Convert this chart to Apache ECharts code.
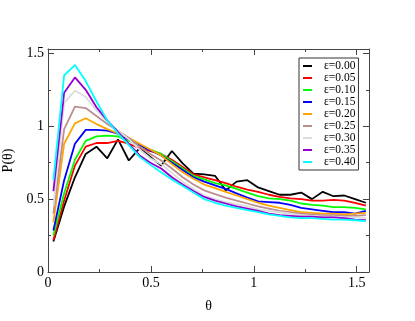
<!DOCTYPE html>
<html>
<head>
<meta charset="utf-8">
<script src="https://cdn.jsdelivr.net/npm/echarts@6/dist/echarts.min.js"></script>
<style>html,body{margin:0;padding:0;background:#fff}#c{width:415px;height:321px}</style>
</head>
<body>
<div id="c"></div>
<script>
var theta = [0.0262,0.0785,0.1309,0.1833,0.2356,0.2880,0.3403,0.3927,0.4451,0.4974,
  0.5498,0.6021,0.6545,0.7069,0.7592,0.8116,0.8639,0.9163,0.9687,1.0210,
  1.0734,1.1257,1.1781,1.2305,1.2828,1.3352,1.3875,1.4399,1.4923,1.5446];
var seriesNames = ['ε=0.00','ε=0.05','ε=0.10','ε=0.15','ε=0.20','ε=0.25','ε=0.30','ε=0.35','ε=0.40'];
var eps000 = [0.21,0.45,0.65,0.81,0.86,0.78,0.91,0.765,0.85,0.79,0.73,0.83,0.745,0.675,0.67,0.66,0.56,0.62,0.63,0.58,0.555,0.53,0.53,0.545,0.50,0.55,0.52,0.525,0.50,0.475];
var eps005 = [0.22,0.49,0.73,0.86,0.885,0.885,0.90,0.88,0.85,0.83,0.81,0.77,0.72,0.67,0.65,0.63,0.61,0.585,0.565,0.55,0.53,0.515,0.505,0.50,0.49,0.49,0.495,0.49,0.475,0.455];
var eps010 = [0.25,0.54,0.77,0.90,0.93,0.935,0.93,0.90,0.87,0.84,0.81,0.76,0.71,0.66,0.635,0.61,0.595,0.57,0.545,0.52,0.505,0.50,0.49,0.47,0.46,0.455,0.445,0.445,0.44,0.43];
var eps015 = [0.285,0.63,0.88,0.975,0.975,0.97,0.95,0.91,0.87,0.835,0.80,0.75,0.70,0.65,0.62,0.595,0.57,0.54,0.51,0.485,0.48,0.475,0.46,0.44,0.43,0.42,0.41,0.41,0.40,0.42];
var eps020 = [0.34,0.88,1.02,1.055,1.015,0.98,0.95,0.92,0.88,0.84,0.80,0.74,0.685,0.64,0.60,0.575,0.55,0.525,0.50,0.475,0.455,0.44,0.425,0.41,0.405,0.40,0.40,0.395,0.40,0.405];
var eps025 = [0.40,0.98,1.135,1.125,1.07,1.015,0.97,0.92,0.86,0.81,0.765,0.71,0.65,0.60,0.56,0.535,0.51,0.49,0.47,0.45,0.435,0.42,0.41,0.40,0.395,0.39,0.39,0.385,0.385,0.39];
var eps030 = [0.45,1.16,1.245,1.20,1.11,1.03,0.97,0.91,0.84,0.78,0.74,0.68,0.62,0.57,0.525,0.50,0.48,0.465,0.45,0.43,0.42,0.41,0.40,0.39,0.385,0.38,0.38,0.375,0.375,0.37];
var eps035 = [0.555,1.23,1.335,1.25,1.13,1.04,0.96,0.88,0.80,0.75,0.71,0.65,0.60,0.555,0.515,0.49,0.47,0.45,0.435,0.42,0.40,0.39,0.385,0.38,0.38,0.375,0.375,0.37,0.36,0.355];
var eps040 = [0.63,1.35,1.42,1.31,1.17,1.04,0.95,0.87,0.79,0.735,0.685,0.635,0.59,0.545,0.50,0.475,0.455,0.44,0.425,0.41,0.395,0.385,0.375,0.37,0.37,0.365,0.36,0.36,0.355,0.35];
var xMajor = [0, 0.5, 1, 1.5];
var xMinor = [0.25, 0.75, 1.25];
var yMajor = [0, 0.5, 1, 1.5];
var yMinor = [0.25, 0.75, 1.25];
var xLabels = ['0', '0.5', '1', '1.5'];
var yLabels = ['0', '0.5', '1', '1.5'];

var allValues = [eps000, eps005, eps010, eps015, eps020, eps025, eps030, eps035, eps040];
var colors = ['#000000','#ff0000','#00ff00','#0000ff','#ffa500','#bc8f8f','#dcdcdc','#9400d3','#00ffff'];
var FONT = "'Liberation Serif','Times New Roman',serif";
var XMIN = 0, XMAX = 1.56, YMIN = 0, YMAX = 1.53;
var frame = '#444';

function fmt(list, labels) { return function (v) { for (var i = 0; i < list.length; i++) if (Math.abs(list[i] - v) < 1e-6) return labels[i]; return ''; }; }

function xAx(grid, pos, vals, len, showLab, showLine) {
  return { type: 'value', gridIndex: grid, position: pos, min: XMIN, max: XMAX,
    axisLine: { show: showLine, onZero: false, lineStyle: { color: frame, width: 1 } },
    axisTick: { show: true, inside: true, length: len, customValues: vals, lineStyle: { color: frame } },
    axisLabel: { show: showLab, customValues: vals, formatter: fmt(xMajor, xLabels), color: '#000', fontFamily: FONT, fontSize: 14, margin: 4 },
    splitLine: { show: false },
    name: showLab ? 'θ' : '', nameLocation: 'middle', nameGap: 27,
    nameTextStyle: { fontFamily: FONT, fontSize: 14, color: '#000' } };
}
function yAx(grid, pos, vals, len, showLab, showLine) {
  return { type: 'value', gridIndex: grid, position: pos, min: YMIN, max: YMAX,
    axisLine: { show: showLine, onZero: false, lineStyle: { color: frame, width: 1 } },
    axisTick: { show: true, inside: true, length: len, customValues: vals, lineStyle: { color: frame } },
    axisLabel: { show: showLab, customValues: vals, formatter: fmt(yMajor, yLabels), color: '#000', fontFamily: FONT, fontSize: 14, margin: 4 },
    splitLine: { show: false },
    name: showLab ? 'P(θ)' : '', nameLocation: 'middle', nameGap: 23,
    nameTextStyle: { fontFamily: FONT, fontSize: 14, color: '#000' } };
}

var gridBox = { left: 48, right: 46, top: 49, bottom: 49, containLabel: false, outerBoundsMode: 'none' };
var series = allValues.map(function (vals, k) {
  return { name: seriesNames[k], type: 'line', xAxisIndex: 0, yAxisIndex: 0,
    data: theta.map(function (t, i) { return [t, vals[i]]; }),
    symbol: 'none', showSymbol: false, smooth: false,
    lineStyle: { color: colors[k], width: 1.8 }, itemStyle: { color: colors[k] }, z: 2 + k };
});

var chart = echarts.init(document.getElementById('c'), null, { renderer: 'canvas' });
chart.setOption({
  animation: false,
  backgroundColor: '#fff',
  grid: [Object.assign({}, gridBox), Object.assign({}, gridBox)],
  xAxis: [xAx(0, 'bottom', xMajor, 6, true, true), xAx(0, 'top', xMajor, 6, false, true),
          xAx(1, 'bottom', xMinor, 3, false, false), xAx(1, 'top', xMinor, 3, false, false)],
  yAxis: [yAx(0, 'left', yMajor, 6, true, true), yAx(0, 'right', yMajor, 6, false, true),
          yAx(1, 'left', yMinor, 3, false, false), yAx(1, 'right', yMinor, 3, false, false)],
  legend: { orient: 'vertical', left: 299, top: 58, padding: [2, 3, 2, 4], itemGap: 0,
    itemWidth: 9, itemHeight: 2, icon: 'rect', borderColor: '#333', borderWidth: 1, backgroundColor: '#fff',
    textStyle: { fontFamily: FONT, fontSize: 11.5, color: '#000', lineHeight: 11, padding: [0, 0, 0, 7] },
    data: seriesNames.map(function (n, k) { return { name: n, itemStyle: { color: colors[k] } }; }) },
  series: series
});
</script>
</body>
</html>
